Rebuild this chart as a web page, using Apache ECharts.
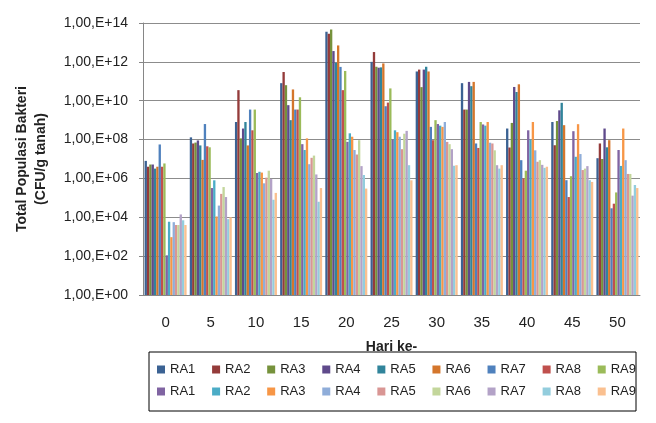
<!DOCTYPE html>
<html>
<head>
<meta charset="utf-8">
<script src="https://cdn.jsdelivr.net/npm/echarts@6/dist/echarts.min.js"></script>
<style>
  html, body { margin: 0; padding: 0; background: #fff; }
  #chart { width: 656px; height: 423px; }
</style>
</head>
<body>
<div id="chart"></div>
<script>
// hari pengamatan
const days = ['0', '5', '10', '15', '20', '25', '30', '35', '40', '45', '50'];

// populasi (CFU/g tanah), set pertama
const ra1 = [8e6, 1.3e8, 8e8, 8e10, 3.5e13, 1e12, 3.2e11, 8e10, 3.7e8, 8e8, 1.1e7];
const ra2 = [4e6, 6.3e7, 3.5e10, 3e11, 2.8e13, 3.2e12, 4e11, 3.5e9, 3.9e7, 5.1e7, 6.3e7];
const ra3 = [5.2e6, 7e7, 1.15e8, 6.3e10, 4.6e13, 5.6e11, 5e10, 3.5e9, 7.2e8, 9e8, 1e7];
const ra4 = [5.2e6, 9e7, 3.7e8, 5.9e9, 3.6e12, 5e11, 4e11, 9.3e10, 5.1e10, 3.2e9, 3.7e8];
const ra5 = [3.2e6, 5e7, 8e8, 1e9, 9e11, 5.2e11, 5.6e11, 5.6e10, 2.8e10, 7.8e9, 4e7];
const ra6 = [4e6, 9e6, 5e7, 3.8e10, 7e12, 8.3e11, 3.2e11, 9.3e10, 7e10, 5.5e8, 9.3e7];
const ra7 = [5.6e7, 6.3e8, 3.5e9, 3.5e9, 5.5e11, 5.2e9, 4.5e8, 6.3e7, 8.7e6, 8.1e5, 2.9e4];
const ra8 = [4e6, 4.5e7, 3e8, 3.5e9, 3.5e10, 8e9, 9.3e7, 3.7e7, 1e6, 1.1e5, 5e4];
const ra9 = [5.9e6, 4e7, 3.5e9, 1.5e10, 3.4e11, 4.3e10, 1e9, 8e8, 2.5e6, 1.3e6, 1.9e5];

// set kedua
const rb1 = [1.1e2, 3.2e5, 1.9e6, 5.8e7, 7.6e7, 1e8, 6.3e8, 6e8, 3e8, 2.7e8, 2.9e7];
const rb2 = [5.9e3, 8e5, 2.2e6, 2.9e7, 2.1e8, 3e8, 5.2e8, 5.2e8, 1e8, 1.3e7, 4.4e6];
const rb3 = [9.5e2, 1.1e4, 2e6, 1.15e8, 1.4e8, 2.4e8, 4.5e8, 8e8, 8e8, 6.2e8, 3.7e8];
const rb4 = [5.6e3, 4e4, 5.6e5, 5.4e6, 2.9e7, 1.4e8, 8e8, 6.9e7, 2.8e7, 1.8e7, 8.7e6];
const rb5 = [4e3, 1.6e5, 1.1e6, 1.15e7, 1.7e7, 3.2e7, 7.6e7, 6.3e7, 7.2e6, 2.7e6, 1.7e6];
const rb6 = [4e3, 3.6e5, 2.5e6, 1.5e7, 9.3e7, 2e8, 5.8e7, 2.8e7, 8.7e6, 3.2e6, 1.7e6];
const rb7 = [1.4e4, 1.1e5, 9.5e5, 1.6e6, 4.3e6, 2.8e8, 3.2e7, 4.8e6, 5e6, 4.3e6, 1.3e5];
const rb8 = [7e3, 8e3, 8e4, 6.3e4, 1.5e6, 4.8e6, 4.5e6, 3.2e6, 3.5e6, 8.1e5, 4.6e5];
const rb9 = [4e3, 1e4, 1.8e5, 3.2e5, 3e5, 8e5, 4.8e6, 4.8e6, 4e6, 6.6e5, 3.2e5];

// nama seri (set kedua diberi spasi di belakang supaya legend tidak bergabung)
const names1 = ['RA1', 'RA2', 'RA3', 'RA4', 'RA5', 'RA6', 'RA7', 'RA8', 'RA9'];
const names2 = ['RA1 ', 'RA2 ', 'RA3 ', 'RA4 ', 'RA5 ', 'RA6 ', 'RA7 ', 'RA8 ', 'RA9 '];
const names = names1.concat(names2);
const values = [ra1, ra2, ra3, ra4, ra5, ra6, ra7, ra8, ra9,
  rb1, rb2, rb3, rb4, rb5, rb6, rb7, rb8, rb9];
const colors = ['#3b6293', '#943b3a', '#76923c', '#5f4a8b', '#31849b', '#d4762c',
  '#4f81bd', '#c0504d', '#9bbb59', '#8064a2', '#4bacc6', '#f79646',
  '#8fadd9', '#d99694', '#c3d69b', '#b3a2c7', '#93cddd', '#fac090'];

const yTicks = ['1,00,E+00', '1,00,E+02', '1,00,E+04', '1,00,E+06',
  '1,00,E+08', '1,00,E+10', '1,00,E+12', '1,00,E+14'];

const chart = echarts.init(document.getElementById('chart'));

const series = names.map((name, i) => ({
  name: name,
  type: 'bar',
  data: values[i],
  barGap: '0%',
  barCategoryGap: '7%',
  itemStyle: { color: colors[i] }
}));

// legend dibagi dua baris (dua komponen) agar jarak baris rapat
const legendBase = {
  itemGap: 16.8,
  itemWidth: 8,
  itemHeight: 8,
  icon: 'rect',
  orient: 'horizontal',
  formatter: (name) => name.trim(),
  textStyle: { fontSize: 13, color: '#222' }
};

const option = {
  backgroundColor: '#fff',
  textStyle: { fontFamily: 'Liberation Sans, Arial, sans-serif' },
  grid: { left: 143, right: 16, top: 23, bottom: 128 },
  xAxis: {
    type: 'category',
    data: days,
    name: 'Hari ke-',
    nameLocation: 'middle',
    nameGap: 45,
    nameTextStyle: { fontSize: 14, fontWeight: 'bold', color: '#222' },
    axisLine: { lineStyle: { color: '#868686' } },
    axisTick: { show: false },
    axisLabel: { fontSize: 15, color: '#222', margin: 20 }
  },
  yAxis: {
    type: 'log',
    logBase: 10,
    min: 1,
    max: 1e14,
    interval: 2,
    name: 'Total Populasi Bakteri\n(CFU/g tanah)',
    nameLocation: 'middle',
    nameGap: 92,
    nameTextStyle: { fontSize: 14, fontWeight: 'bold', color: '#222', lineHeight: 19 },
    axisLine: { show: true, lineStyle: { color: '#868686' } },
    axisTick: { show: true, length: 4, lineStyle: { color: '#868686' } },
    splitLine: { lineStyle: { color: '#8c8c8c' } },
    axisLabel: {
      fontSize: 14,
      color: '#222',
      margin: 15,
      formatter: (v) => yTicks[Math.round(Math.log10(v) / 2)]
    }
  },
  legend: [
    Object.assign({}, legendBase, {
      left: 149,
      top: 352,
      width: 490,
      padding: [11, 0, 35, 8],
      borderColor: '#000',
      borderWidth: 1,
      data: names1
    }),
    Object.assign({}, legendBase, {
      left: 157,
      top: 385,
      width: 490,
      padding: 0,
      data: names2
    })
  ],
  series: series
};

chart.setOption(option);
window.addEventListener('resize', () => chart.resize());
</script>
</body>
</html>
